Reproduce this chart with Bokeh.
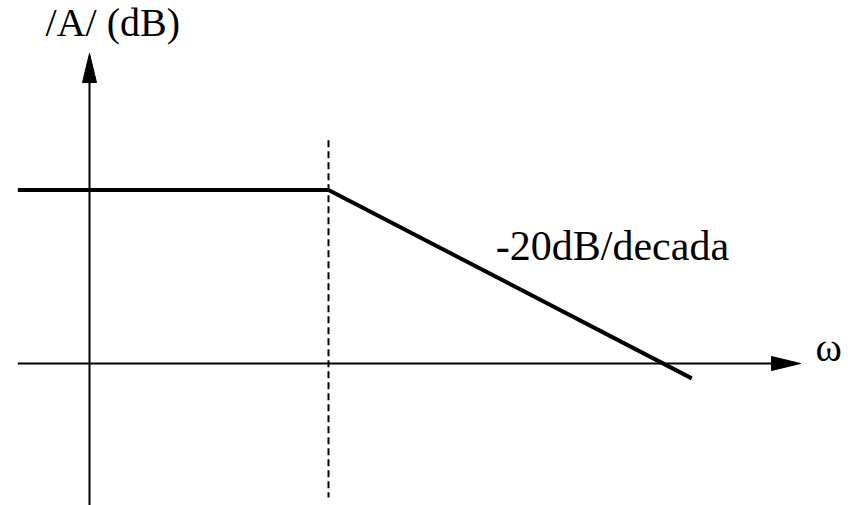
from bokeh.plotting import figure
from bokeh.models import Range1d, Label
from bokeh.embed import file_html
from bokeh.resources import INLINE

# ---- data (x in decades of omega, y in dB) ----
bode_x = [-0.30, 1.0, 2.52]          # asymptotic magnitude curve
bode_y = [28.0, 28.0, -2.4]
corner_x = 1.0                        # corner frequency (dashed line)
corner_y = [36.0, -21.6]
omega_axis_x = [-0.30, 2.975]         # horizontal axis extent (tip at right)
gain_axis_y = [-23.0, 50.0]           # vertical axis extent (tip at top)
labels = ["/A/ (dB)", "-20dB/decada", "\u03c9"]
label_x = [-0.184, 1.70, 3.038]
label_y = [55.0, 19.0, 2.6]
label_size = ["40px", "42px", "40px"]

# ---- scale: pixels per unit ----
PX_X = 239.0
PX_Y = 6.2
W, H = 852, 505
x0 = -89.0 / PX_X
y1 = 363.0 / PX_Y

p = figure(width=W, height=H, output_backend="svg", toolbar_location=None,
           x_axis_type=None, y_axis_type=None, min_border=0,
           x_range=Range1d(x0, x0 + W / PX_X), y_range=Range1d(y1 - H / PX_Y, y1))
p.grid.visible = False
p.outline_line_color = None
p.background_fill_color = "white"
p.border_fill_color = "white"

# axes lines
p.segment(x0=[omega_axis_x[0]], y0=[0], x1=[omega_axis_x[1] - 20 / PX_X], y1=[0],
          line_color="black", line_width=2)
p.segment(x0=[0], y0=[gain_axis_y[0]], x1=[0], y1=[gain_axis_y[1] - 20 / PX_Y],
          line_color="black", line_width=2)

# arrow heads (29 px long, 14 px wide)
hl, hw = 29.0, 7.0
tx = omega_axis_x[1]
ty = gain_axis_y[1]
p.patches(xs=[[tx, tx - hl / PX_X, tx - hl / PX_X], [0, -hw / PX_X, hw / PX_X]],
          ys=[[0, hw / PX_Y, -hw / PX_Y], [ty, ty - hl / PX_Y, ty - hl / PX_Y]],
          fill_color="black", line_color="black", line_width=1)

# dashed corner line
p.line(x=[corner_x, corner_x], y=corner_y, line_color="black", line_width=2,
       line_dash="7 4")

# asymptotic magnitude
p.line(x=bode_x, y=bode_y, line_color="black", line_width=4, line_join="miter")

# labels
for t, lx, ly, fs in zip(labels, label_x, label_y, label_size):
    p.add_layout(Label(x=lx, y=ly, text=t, text_font="Liberation Serif",
                       text_font_size=fs, text_color="black",
                       text_baseline="alphabetic", text_align="left"))

open("out.html", "w").write(file_html(p, INLINE))
